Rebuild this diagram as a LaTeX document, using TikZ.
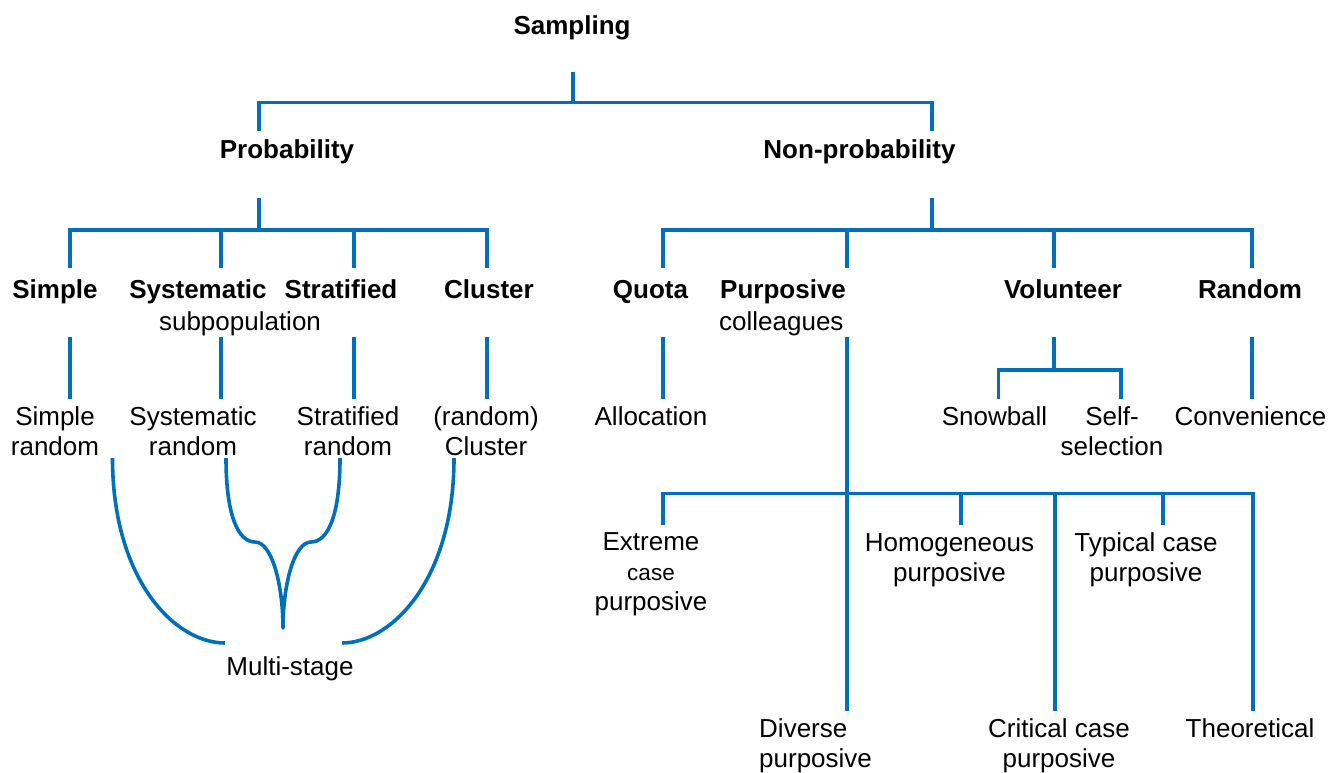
\documentclass[tikz,border=0pt]{standalone}
\usepackage{fontspec}
\setmainfont{Liberation Sans}
\definecolor{lineblue}{RGB}{0,112,186}
\newcommand\lstrut{\rule[-7pt]{0pt}{27pt}}
\begin{document}
\begin{tikzpicture}[x=1pt,y=-1pt,
  lab/.style={font=\fontsize{26}{30}\selectfont, align=center, inner sep=0pt, anchor=north},
  hd/.style={font=\fontsize{26}{30}\selectfont\bfseries, align=center, inner sep=0pt, anchor=north},
  labl/.style={font=\fontsize{26}{30}\selectfont, align=left, inner sep=0pt, anchor=north west},
  hdl/.style={font=\fontsize{26}{30}\selectfont\bfseries, align=left, inner sep=0pt, anchor=north west},
  conn/.style={draw=lineblue, line width=3.2pt},
  curve/.style={draw=lineblue, line width=3.6pt, line join=round}]
\useasboundingbox (0,0) rectangle (1343,772);

% ---------- labels ----------
\node[hd] (samp) at (572,14) {\lstrut Sampling};
\node[hd] (prob) at (287,138) {\lstrut Probability};
\node[hd] (nonp) at (859.5,138) {\lstrut Non-probability};

\node[hd] (simple) at (55,278) {\lstrut Simple};
\node[hd] (syst) at (198,278) {\lstrut Systematic};
\node[hd] (strat) at (341,278) {\lstrut Stratified};
\node[hd] (clus) at (489,278) {\lstrut Cluster};
\node[lab] (subpop) at (240,310) {\lstrut subpopulation};

\node[hd] (quota) at (650.5,278) {\lstrut Quota};
\node[hdl] (purp) at (720,278) {\lstrut Purposive};
\node[labl] (coll) at (719,310) {\lstrut colleagues};
\node[hd] (vol) at (1063,278) {\lstrut Volunteer};
\node[hd] (rand) at (1250,278) {\lstrut Random};

\node[lab] (simr) at (55,405) {\lstrut Simple\\random};
\node[lab] (sysr) at (193,405) {\lstrut Systematic\\random};
\node[lab] (strr) at (348,405) {\lstrut Stratified\\random};
\node[lab] (clur) at (486,405) {\lstrut (random)\\Cluster};
\node[lab] (multi) at (290,655) {\lstrut Multi-stage};

\node[lab] (alloc) at (651,405) {\lstrut Allocation};
\node[lab] (snow) at (994.5,405) {\lstrut Snowball};
\node[lab] (selfs) at (1112,405) {\lstrut Self-\\selection};
\node[lab] (conv) at (1250.5,405) {\lstrut Convenience};

\node[lab] (extr) at (651,530) {\lstrut Extreme\\{\fontsize{22.5}{30}\selectfont case}\\purposive};
\node[lab] (homo) at (949.5,531) {\lstrut Homogeneous\\purposive};
\node[lab] (typi) at (1146,531) {\lstrut Typical case\\purposive};
\node[labl] (dive) at (759,717) {\lstrut Diverse\\purposive};
\node[lab] (crit) at (1059,717) {\lstrut Critical case\\purposive};
\node[lab] (theo) at (1250,717) {\lstrut Theoretical};

% ---------- connector points ----------
\coordinate (s0) at (573,72);
\coordinate (s1) at (573,102.5);
\coordinate (pa) at (259,131);
\coordinate (na) at (932,131);

\coordinate (pb) at (259,198);
\coordinate (pj) at (259,230);
\coordinate (c1) at (70,268);
\coordinate (c2) at (221,268);
\coordinate (c3) at (354,268);
\coordinate (c4) at (487,268);

\coordinate (nb) at (932,198);
\coordinate (nj) at (932,230);
\coordinate (d1) at (663,268);
\coordinate (d2) at (847,268);
\coordinate (d3) at (1054,268);
\coordinate (d4) at (1252,268);

\coordinate (e1a) at (70,337);  \coordinate (e1b) at (70,399);
\coordinate (e2a) at (221,337); \coordinate (e2b) at (221,399);
\coordinate (e3a) at (354,337); \coordinate (e3b) at (354,399);
\coordinate (e4a) at (487,337); \coordinate (e4b) at (487,399);
\coordinate (qa) at (663,337);  \coordinate (qb) at (663,399);
\coordinate (ra) at (1252,337); \coordinate (rb) at (1252,399);

\coordinate (v0) at (1054,337);
\coordinate (vj) at (1054,370);
\coordinate (v1) at (998.5,399);
\coordinate (v2) at (1121,399);

\coordinate (u0) at (847,337);
\coordinate (uj) at (847,493.5);
\coordinate (u1) at (847,711);
\coordinate (f1) at (663,525);
\coordinate (f2) at (961,525);
\coordinate (f3) at (1055,711);
\coordinate (f4) at (1163,525);
\coordinate (f5) at (1253,711);

\coordinate (m1a) at (112.5,458);
\coordinate (m1b) at (225,643);
\coordinate (m2a) at (226,458);
\coordinate (m2k) at (255,542);
\coordinate (tip) at (283,628);
\coordinate (m3k) at (311,542);
\coordinate (m3a) at (340,458);
\coordinate (m4a) at (454,458);
\coordinate (m4b) at (342,643);

% ---------- connectors ----------
\draw[conn] (s0) -- (s1);
\draw[conn] (pa) |- (s1) -| (na);

\draw[conn] (pb) -- (pj);
\draw[conn] (c1) |- (pj) -| (c4);
\draw[conn] (c2) |- (pj);
\draw[conn] (c3) |- (pj);

\draw[conn] (nb) -- (nj);
\draw[conn] (d1) |- (nj) -| (d4);
\draw[conn] (d2) |- (nj);
\draw[conn] (d3) |- (nj);

\draw[conn] (e1a) -- (e1b);
\draw[conn] (e2a) -- (e2b);
\draw[conn] (e3a) -- (e3b);
\draw[conn] (e4a) -- (e4b);
\draw[conn] (qa) -- (qb);
\draw[conn] (ra) -- (rb);

\draw[conn] (v0) -- (vj);
\draw[conn] (v1) |- (vj) -| (v2);

\draw[conn] (u0) -- (u1);
\draw[conn] (f1) |- (uj) -| (f5);
\draw[conn] (f2) |- (uj);
\draw[conn] (f3) |- (uj);
\draw[conn] (f4) |- (uj);

% ---------- multi-stage curves ----------
\draw[curve] (m1a) .. controls (112.5,580) and (175,643) .. (m1b);
\draw[curve] (m4a) .. controls (454,580) and (391.5,643) .. (m4b);
\draw[curve] (m2a) .. controls (226,515) and (238,542) .. (m2k)
  .. controls (272,542) and (283,585) .. (tip)
  .. controls (283,585) and (294,542) .. (m3k)
  .. controls (328,542) and (340,515) .. (m3a);
\end{tikzpicture}
\end{document}
